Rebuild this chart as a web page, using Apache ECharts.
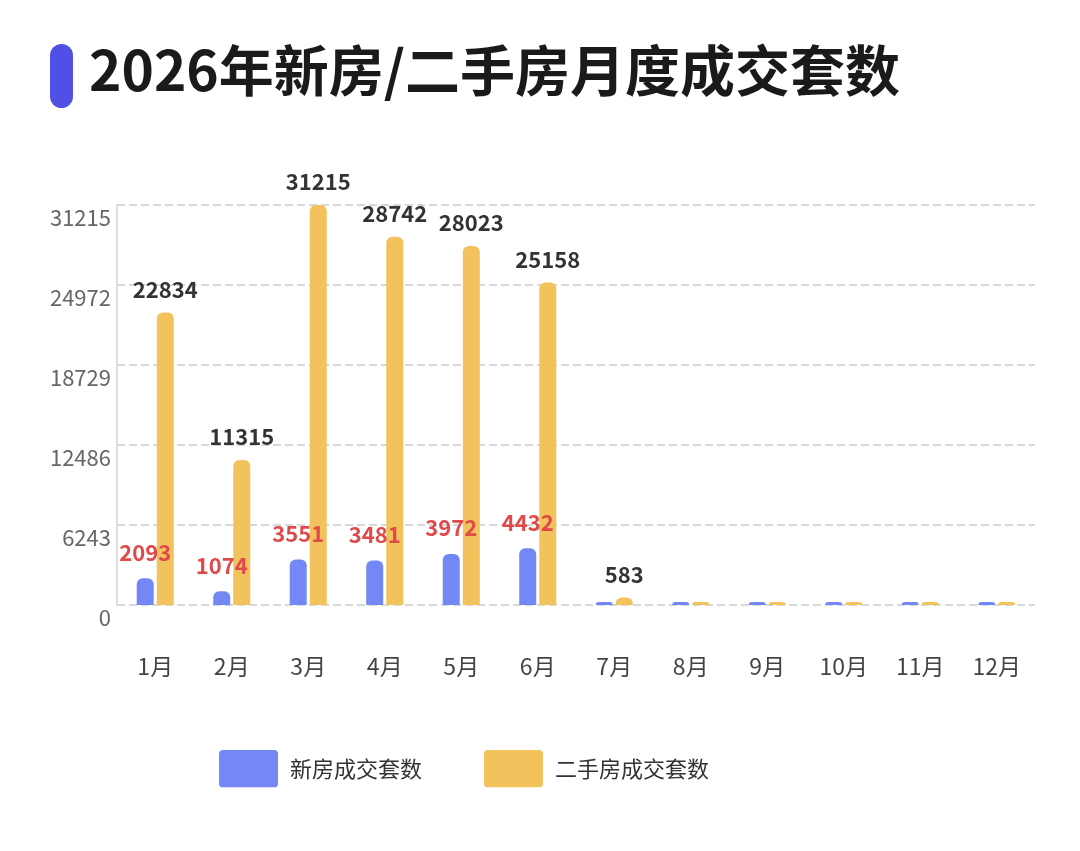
<!DOCTYPE html>
<html>
<head>
<meta charset="utf-8">
<script src="https://cdn.jsdelivr.net/npm/echarts@6/dist/echarts.min.js"></script>
<style>
html, body { margin: 0; padding: 0; background: #fff; }
#chart { width: 1080px; height: 851px; }
</style>
</head>
<body>
<div id="chart"></div>
<script>
// 数据
var months = ['1月', '2月', '3月', '4月', '5月', '6月', '7月', '8月', '9月', '10月', '11月', '12月'];
var newHouse = [2093, 1074, 3551, 3481, 3972, 4432, 0, 0, 0, 0, 0, 0];
var secondHouse = [22834, 11315, 31215, 28742, 28023, 25158, 583, 0, 0, 0, 0, 0];
var yMax = 31215;
var yStep = 6243;

var font = '"Noto Sans CJK SC", "Noto Sans", sans-serif';
var chart = echarts.init(document.getElementById('chart'));

function hideZero(p) {
    return p.value ? String(p.value) : '';
}

// 图例小圆角方块
var legendIcon = 'path://M4,0 H56 A4,4 0 0 1 60,4 V34 A4,4 0 0 1 56,38 H4 A4,4 0 0 1 0,34 V4 A4,4 0 0 1 4,0 Z';

var option = {
    backgroundColor: '#fff',
    textStyle: { fontFamily: font },
    title: {
        text: '2026年新房/二手房月度成交套数',
        left: 84,
        top: 38,
        textStyle: { fontSize: 55, fontWeight: 'bold', color: '#1a1a1a', fontFamily: font }
    },
    graphic: [{
        type: 'rect',
        left: 50,
        top: 44,
        shape: { width: 23, height: 64, r: 11.5 },
        style: { fill: '#5050E6' }
    }],
    legend: {
        left: 214,
        top: 745,
        itemWidth: 59,
        itemHeight: 38,
        itemGap: 62,
        icon: legendIcon,
        data: ['新房成交套数', '二手房成交套数'],
        textStyle: { fontSize: 22, color: '#333', padding: [0, 0, 0, 7], fontFamily: font }
    },
    grid: {
        left: 117,
        right: 45,
        top: 205,
        bottom: 246
    },
    xAxis: {
        type: 'category',
        data: months,
        axisLine: { show: false },
        axisTick: { show: false },
        axisLabel: { fontSize: 23, color: '#444', margin: 50 }
    },
    yAxis: {
        type: 'value',
        min: 0,
        max: yMax,
        interval: yStep,
        axisLine: { show: true, lineStyle: { color: '#ddd', width: 2 } },
        axisLabel: {
            fontSize: 22,
            color: '#666',
            margin: 6,
            verticalAlign: 'top',
            padding: [2, 0, 0, 0],
            formatter: function (v) { return String(v); }
        },
        splitLine: { lineStyle: { color: '#d8d8d8', type: 'dashed', width: 2 } }
    },
    series: [
        {
            name: '新房成交套数',
            type: 'bar',
            data: newHouse,
            barWidth: 17,
            barGap: '18%',
            barMinHeight: 3,
            itemStyle: { color: '#7388F5', borderRadius: [6, 6, 0, 0] },
            label: {
                show: true,
                position: 'top',
                distance: 15,
                formatter: hideZero,
                color: '#E04A4A',
                fontSize: 22,
                fontWeight: 'bold'
            }
        },
        {
            name: '二手房成交套数',
            type: 'bar',
            data: secondHouse,
            barWidth: 17,
            barMinHeight: 3,
            itemStyle: { color: '#F2C25C', borderRadius: [6, 6, 0, 0] },
            label: {
                show: true,
                position: 'top',
                distance: 12,
                formatter: hideZero,
                color: '#333',
                fontSize: 22,
                fontWeight: 'bold'
            }
        }
    ]
};

chart.setOption(option);
</script>
</body>
</html>
